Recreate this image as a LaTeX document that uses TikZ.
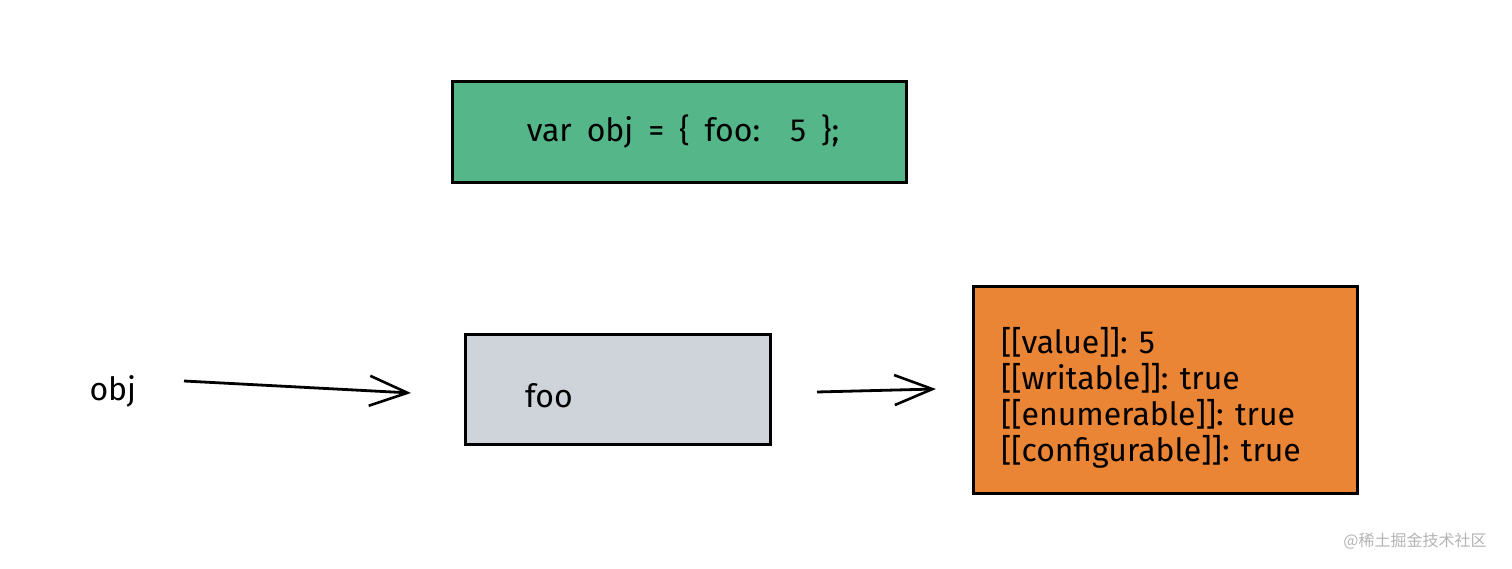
\documentclass[tikz,border=0pt]{standalone}
\usepackage{fontspec}
\setmainfont{Fira Sans}
\newfontfamily\cjk{Noto Sans CJK SC}
\usetikzlibrary{arrows.meta}
\definecolor{boxgreen}{HTML}{55B68A}
\definecolor{boxgray}{HTML}{CED4DA}
\definecolor{boxorange}{HTML}{EA8536}
\definecolor{wmgray}{HTML}{B4B4B4}
\tikzset{
  box/.style={draw=black, line width=3pt, minimum width=#1, inner sep=0pt},
  lbl/.style={font=\fontsize{32}{36}\selectfont, text=black},
  widesp/.style={execute at begin node={\spaceskip=15pt\relax}},
  arr/.style={line width=2.8pt, -{Straight Barb[length=38pt, width=30pt, line width=2.6pt]}},
}
\begin{document}
\begin{tikzpicture}[x=1pt,y=1pt]
\useasboundingbox[fill=white] (0,0) rectangle (1512,569);
\node[box=454pt, minimum height=101pt, fill=boxgreen, lbl, widesp] (decl) at (679,437) {\hspace*{8pt}var obj = \{ foo:\ \ 5 \};};
\node[box=305pt, minimum height=110pt, fill=boxgray, lbl] (foo) at (617.5,179) {\parbox{245pt}{\vspace*{12pt}\hspace*{30pt}foo}};
\node[box=384pt, minimum height=207pt, fill=boxorange, lbl] (attrs) at (1165,178.5) {\parbox{328pt}{\vspace*{14pt}[[value]]: 5\\{}[[writable]]: true\\{}[[enumerable]]: true\\{}[[configurable]]: true}};
\node[lbl, anchor=west] (obj) at (86,178) {obj};
\coordinate (a1s) at (184,188);
\coordinate (a1e) at (411,176);
\coordinate (a2s) at (817,177);
\coordinate (a2e) at (936,180);
\draw[arr] (a1s) -- (a1e);
\draw[arr] (a2s) -- (a2e);
\node[font=\cjk\fontsize{16}{18}\selectfont, text=wmgray] (wm) at (1415,28) {@稀土掘金技术社区};
\end{tikzpicture}
\end{document}
